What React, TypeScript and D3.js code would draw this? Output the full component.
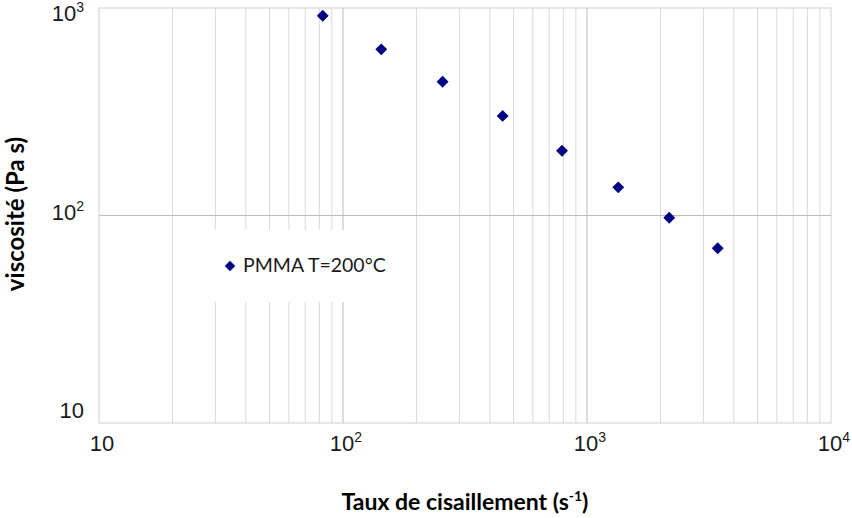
import React from "react";
import * as d3 from "d3";

const shearRates = [82.6, 143.5, 256, 451, 790, 1343, 2173, 3434];
const viscosities = [918, 632, 441, 302, 205, 136.7, 97.6, 69.5];
const seriesName = "PMMA T=200°C";
const xTicks = [10, 100, 1000, 10000];
const yTicks = [10, 100, 1000];
const xTitle = "Taux de cisaillement (s";
const yTitle = "viscosité (Pa s)";

const W = 852;
const H = 518;
const M = { left: 99, right: 831, top: 8, bottom: 423 };

function Pow({ v }: { v: number }) {
  const e = Math.round(Math.log10(v));
  if (e === 1) return <>10</>;
  return (
    <>
      10
      <tspan fontSize={14} dy={-9}>
        {e}
      </tspan>
    </>
  );
}

export default function App() {
  const x = d3.scaleLog().domain([10, 10000]).range([M.left, M.right]);
  const y = d3.scaleLog().domain([10, 1000]).range([M.bottom, M.top]);
  const yLab = d3.scaleLog().domain([10, 1000]).range([410, 13]);

  const minorX: number[] = [];
  for (let d = 10; d < 10000; d *= 10) {
    for (let k = 2; k <= 9; k++) minorX.push(d * k);
  }
  const majorX = [100, 1000];
  const majorY = [100];

  const diamond = d3.symbol().type(d3.symbolDiamond2).size(90);
  const legendDiamond = d3.symbol().type(d3.symbolDiamond2).size(70);

  const font = "'Liberation Sans', Arial, sans-serif";
  const bfont = "Lato, 'Open Sans', sans-serif";

  return (
    <div style={{ position: "fixed", left: 0, top: 0 }}>
      <svg width={W} height={H} style={{ display: "block", background: "#fff" }}>
        <rect x={0} y={0} width={W} height={H} fill="#fff" />
        {minorX.map((v) => (
          <line key={"mx" + v} x1={x(v)} x2={x(v)} y1={M.top} y2={M.bottom} stroke="#dadada" strokeWidth={1} />
        ))}
        {majorX.map((v) => (
          <line key={"Mx" + v} x1={x(v)} x2={x(v)} y1={M.top} y2={M.bottom} stroke="#bcbcbc" strokeWidth={1} />
        ))}
        {majorY.map((v) => (
          <line key={"My" + v} x1={M.left} x2={M.right} y1={y(v)} y2={y(v)} stroke="#bcbcbc" strokeWidth={1} />
        ))}
        <rect x={M.left} y={M.top} width={M.right - M.left} height={M.bottom - M.top} fill="none" stroke="#d0d0d0" strokeWidth={1} />

        {/* legend */}
        <rect x={212} y={230} width={180} height={72} fill="#fff" />
        <path d={legendDiamond()!} transform="translate(230,266)" fill="#000080" />
        <text x={243} y={272} fontFamily={bfont} fontSize={19.5} fill="#1a1a1a">
          {seriesName}
        </text>

        {shearRates.map((v, i) => (
          <path key={"p" + i} d={diamond()!} transform={`translate(${x(v)},${y(viscosities[i])})`} fill="#000080" />
        ))}

        {yTicks.map((v) => (
          <text key={"yt" + v} x={84} y={yLab(v) + 8} textAnchor="end" fontFamily={font} fontSize={22} fill="#1a1a1a">
            <Pow v={v} />
          </text>
        ))}
        {xTicks.map((v) => (
          <text key={"xt" + v} x={x(v) + 3} y={451} textAnchor="middle" fontFamily={font} fontSize={22} fill="#1a1a1a">
            <Pow v={v} />
          </text>
        ))}

        <text x={465} y={510} textAnchor="middle" fontFamily={bfont} fontWeight="bold" fontSize={23} fill="#000">
          {xTitle}
          <tspan fontSize={14} dy={-9}>-1</tspan>
          <tspan dy={9}>)</tspan>
        </text>
        <text
          transform="translate(24,214) rotate(-90)"
          textAnchor="middle"
          fontFamily={bfont}
          fontWeight="bold"
          fontSize={24}
          fill="#000"
        >
          {yTitle}
        </text>
      </svg>
    </div>
  );
}
